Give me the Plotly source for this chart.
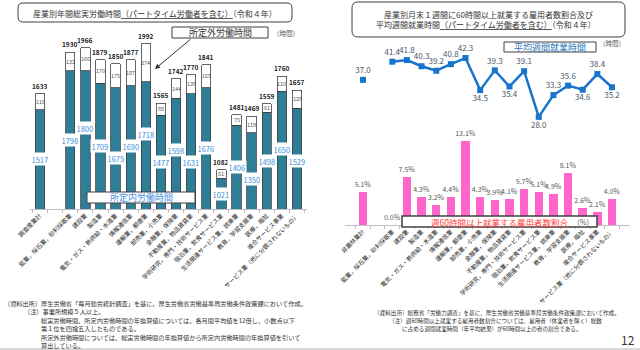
import plotly.graph_objects as go

FONT = "Noto Sans CJK JP"
W, H = 640, 350

# ---------------- data ----------------
left_categories = ["調査産業計", "鉱業，採石業，砂利採取業", "建設業", "製造業",
                   "電気・ガス・熱供給・水道業", "情報通信業", "運輸業，郵便業",
                   "卸売業，小売業", "金融業，保険業", "不動産業，物品賃貸業",
                   "学術研究，専門・技術サービス業", "宿泊業，飲食サービス業",
                   "生活関連サービス業，娯楽業", "教育，学習支援業", "医療，福祉",
                   "複合サービス事業", "サービス業（他に分類されないもの）"]
total_hours = [1633, 1930, 1966, 1879, 1850, 1877, 1992, 1565, 1742, 1770,
               1841, 1082, 1481, 1469, 1559, 1760, 1657]
scheduled_hours = [1517, 1798, 1800, 1709, 1675, 1690, 1718, 1477, 1598, 1631,
                   1676, 1021, 1406, 1350, 1498, 1650, 1529]
overtime_hours = [116, 132, 166, 170, 175, 187, 274, 88, 144, 139,
                  165, 61, 75, 119, 61, 110, 128]

right_categories = ["非農林業計"] + left_categories[1:]
weekly_hours = [37.0, 41.4, 41.8, 40.3, 39.2, 40.8, 42.3, 34.5, 39.3, 35.4,
                39.1, 28.0, 33.3, 35.6, 34.6, 38.4, 35.2]
share_60h = [5.1, 0.0, 7.5, 4.3, 3.2, 4.4, 13.1, 4.3, 3.9, 4.1,
             5.7, 5.1, 4.9, 8.1, 2.6, 2.1, 4.0]

# slots: a blank slot after the first (total) category
left_slots = [left_categories[0], " "] + left_categories[1:]
right_slots = [right_categories[0], "  "] + right_categories[1:]

# ---------------- helpers ----------------
def px(x):
    return x / W

def py(y):
    return 1 - y / H

TEAL = "#2E7E98"
PINK = "#FF66CC"
BLUE_LINE = "#1874CD"

LEFT_YMIN, LEFT_YMAX = 800, 2000
LEFT_BOTTOM_PX, LEFT_TOP_PX = 209, 42.8

fig = go.Figure()

# Left stacked bars
fig.add_trace(go.Bar(
    x=left_categories, y=scheduled_hours, xaxis="x", yaxis="y",
    marker=dict(color=TEAL, line=dict(color="#404040", width=0.8)),
    width=0.62, hoverinfo="skip"))
fig.add_trace(go.Bar(
    x=left_categories, y=overtime_hours, xaxis="x", yaxis="y",
    marker=dict(color="white", line=dict(color="#404040", width=0.8)),
    width=0.62, hoverinfo="skip"))

# Right bars
fig.add_trace(go.Bar(
    x=right_categories, y=share_60h, xaxis="x2", yaxis="y2",
    marker=dict(color=PINK, line=dict(width=0)), width=0.58,
    text=share_60h, texttemplate="%{y:.1f}%", textposition="outside",
    constraintext="none", cliponaxis=False,
    textfont=dict(family=FONT, size=7, color="#595959"), hoverinfo="skip"))

# Right line (first point isolated)
line_x = right_slots
line_y = [weekly_hours[0], None] + weekly_hours[1:]
connected = weekly_hours[1:]
positions = ["top center", "top center"]
texts = [f"{weekly_hours[0]:.1f}", ""]
for i, v in enumerate(connected):
    nb = []
    if i > 0:
        nb.append(connected[i - 1])
    if i < len(connected) - 1:
        nb.append(connected[i + 1])
    below = all(v < n for n in nb) and v < 36
    positions.append("bottom center" if below else "top center")
    texts.append(f"{v:.1f}")

fig.add_trace(go.Scatter(
    x=line_x, y=line_y, xaxis="x2", yaxis="y3", mode="lines+markers+text",
    line=dict(color=BLUE_LINE, width=2.5),
    marker=dict(symbol="square", size=6, color=BLUE_LINE),
    text=texts, textposition=positions, cliponaxis=False,
    textfont=dict(family=FONT, size=8, color="#4A5868"),
    connectgaps=False, hoverinfo="skip"))

axis_common = dict(
    type="category", categoryorder="array", tickangle=-45,
    ticks="outside", tickson="boundaries", ticklen=3, tickcolor="#BFBFBF",
    showline=True, linecolor="#BFBFBF", linewidth=1, showgrid=False,
    zeroline=False, automargin=False,
    tickfont=dict(family=FONT, size=6, color="#262626"))

fig.update_layout(
    width=W, height=H, margin=dict(l=0, r=0, t=0, b=0),
    paper_bgcolor="white", plot_bgcolor="white", showlegend=False,
    barmode="stack", bargap=0.3,
    font=dict(family=FONT),
    xaxis=dict(domain=[px(30), px(307)], anchor="y",
               categoryarray=left_slots, **axis_common),
    yaxis=dict(domain=[py(LEFT_BOTTOM_PX), py(LEFT_TOP_PX)],
               range=[LEFT_YMIN, LEFT_YMAX], visible=False, anchor="x"),
    xaxis2=dict(domain=[px(345), px(630)], anchor="y2",
                categoryarray=right_slots, **axis_common),
    yaxis2=dict(domain=[py(225), py(135.4)], range=[0, 14],
                visible=False, anchor="x2"),
    yaxis3=dict(domain=[py(121), py(51)], range=[27, 44],
                visible=False, anchor="x2"),
)

ann = []
# left bar labels; scheduled labels nudged apart to avoid collisions
pix_per_unit = (LEFT_BOTTOM_PX - LEFT_TOP_PX) / (LEFT_YMAX - LEFT_YMIN)
MIN_SEP = 12
prev_p = None
for i, (cat, tot, sch, ot) in enumerate(zip(left_categories, total_hours,
                                            scheduled_hours, overtime_hours)):
    ann.append(dict(x=cat, y=tot, xref="x", yref="y", text=f"<b>{tot}</b>",
                    showarrow=False, yanchor="bottom", yshift=1,
                    font=dict(family=FONT, size=6.5, color="#222")))
    ann.append(dict(x=cat, y=sch + ot / 2, xref="x", yref="y", text=str(ot),
                    showarrow=False, yanchor="middle",
                    font=dict(family=FONT, size=5.5, color="#555")))
    mid = (LEFT_YMIN + sch) / 2
    p_mid = LEFT_BOTTOM_PX - (mid - LEFT_YMIN) * pix_per_unit
    p = p_mid
    if prev_p is not None and i > 1 and abs(p - prev_p) < MIN_SEP:
        p = prev_p + MIN_SEP if p >= prev_p else prev_p - MIN_SEP
    prev_p = p
    ann.append(dict(x=cat, y=mid, xref="x", yref="y", text=str(sch),
                    showarrow=False, yanchor="middle", yshift=p_mid - p,
                    bgcolor="white", borderpad=0.5,
                    font=dict(family=FONT, size=7.5, color="#3A8FD9")))

def ptext(x, y, text, size, color="#333", xanchor="center", yanchor="middle"):
    ann.append(dict(x=px(x), y=py(y), xref="paper", yref="paper", text=text,
                    showarrow=False, xanchor=xanchor, yanchor=yanchor,
                    font=dict(family=FONT, size=size, color=color)))

# titles
ptext(155, 13, "産業別年間総実労働時間<u>（パートタイム労働者を含む）</u>（令和４年）", 8)
ptext(488, 14, "産業別月末１週間に60時間以上就業する雇用者数割合及び", 8)
ptext(486, 25, "平均週間就業時間<u>（パートタイム労働者を含む）</u>（令和４年）", 8)

# legend-like boxes text
ptext(220, 32.5, "所定外労働時間", 9, "#333")
ptext(286, 33, "（時間）", 6.5, "#555")
ptext(141, 197.5, "所定内労働時間", 9, "#4A90E2")
ptext(550, 47, "平均週間就業時間", 9, "#2E75B6")
ptext(612, 43, "（時間）", 6.5, "#555")
ptext(499, 221.5, "週60時間以上就業する雇用者数割合", 8.5, "#FF3B3B")
ptext(583, 222, "（%）", 7, "#555")

# arrow
ann.append(dict(x=px(155), y=py(69), xref="paper", yref="paper", text="",
                showarrow=True, ax=37, ay=-31, arrowhead=2, arrowsize=1,
                arrowwidth=1, arrowcolor="#333", standoff=0))

# notes left
NL = 6.2
ptext(2, 303, "（資料出所）厚生労働省「毎月勤労統計調査」を基に、厚生労働省労働基準局労働条件政策課において作成。", NL, "#333", "left")
ptext(22, 311.5, "（注）事業所規模５人以上。", NL, "#333", "left")
ptext(39, 320, "総実労働時間、所定内労働時間の年換算値については、各月間平均値を12倍し、小数点以下", NL, "#333", "left")
ptext(39, 328.5, "第１位を四捨五入したものである。", NL, "#333", "left")
ptext(39, 337, "所定外労働時間については、総実労働時間の年換算値から所定内労働時間の年換算値を引いて", NL, "#333", "left")
ptext(39, 345, "算出している。", NL, "#333", "left")

# notes right
ptext(372, 313, "（資料出所）総務省「労働力調査」を基に、厚生労働省労働基準局労働条件政策課において作成。", 5.6, "#333", "left")
ptext(387, 321, "（注）週60時間以上就業する雇用者数割合については、雇用者（休業者を除く）総数", 5.6, "#333", "left")
ptext(400, 328.5, "に占める週間就業時間（年平均結果）が60時間以上の者の割合である。", 5.6, "#333", "left")

ptext(628, 339, "12", 12, "#333")

fig.update_layout(annotations=ann)

# shapes
def rrect_path(x0, y0, x1, y1, r):
    def P(x, y):
        return f"{px(x):.5f},{py(y):.5f}"
    return (f"M {P(x0 + r, y0)} L {P(x1 - r, y0)} Q {P(x1, y0)} {P(x1, y0 + r)} "
            f"L {P(x1, y1 - r)} Q {P(x1, y1)} {P(x1 - r, y1)} "
            f"L {P(x0 + r, y1)} Q {P(x0, y1)} {P(x0, y1 - r)} "
            f"L {P(x0, y0 + r)} Q {P(x0, y0)} {P(x0 + r, y0)} Z")

shapes = [
    dict(type="path", xref="paper", yref="paper", path=rrect_path(18, 3, 292, 22, 5),
         line=dict(color="#404040", width=1), fillcolor="rgba(0,0,0,0)", layer="above"),
    dict(type="path", xref="paper", yref="paper", path=rrect_path(352, 2, 625, 37, 6),
         line=dict(color="#404040", width=1), fillcolor="rgba(0,0,0,0)", layer="above"),
]

def box(x0, y0, x1, y1, lw=1):
    shapes.append(dict(type="rect", xref="paper", yref="paper",
                       x0=px(x0), x1=px(x1), y0=py(y1), y1=py(y0),
                       line=dict(color="#404040", width=lw), fillcolor="white",
                       layer="above"))

box(172, 27, 268, 38)
box(87, 192, 195, 203)
box(504, 42, 596, 52)
box(402, 216, 597, 227, 1.5)

shapes.append(dict(type="rect", xref="paper", yref="paper", x0=0, x1=1,
                   y0=0, y1=py(348), line=dict(width=0), fillcolor="#D9D9D9",
                   layer="above"))

fig.update_layout(shapes=shapes)

fig.write_html("out.html")
